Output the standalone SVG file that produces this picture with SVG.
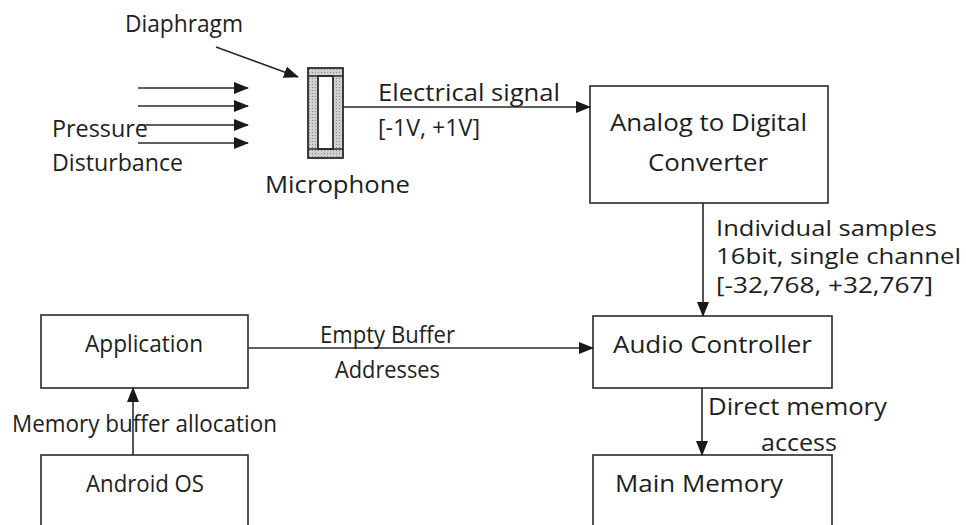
<svg xmlns="http://www.w3.org/2000/svg" width="966" height="525" viewBox="0 0 966 525">
<defs>
<marker id="ah" markerWidth="15" markerHeight="12" refX="14" refY="6" orient="auto" markerUnits="userSpaceOnUse">
<path d="M0,0 L15,6 L0,12 Z" fill="#1a1a1a"/>
</marker>
<pattern id="dots" width="3" height="3" patternUnits="userSpaceOnUse">
<rect width="3" height="3" fill="#d0d0d0"/>
<rect width="1" height="1" fill="#8a8a8a"/>
</pattern>
<style>
text{font-family:"Open Sans","Noto Sans","Liberation Sans",sans-serif;font-size:23px;fill:#1e1e1e}
.sm{font-size:21px}
.box{fill:#fff;stroke:#2a2a2a;stroke-width:1.6}
.ln{fill:none;stroke:#2a2a2a;stroke-width:1.6}
.ar{fill:none;stroke:#2a2a2a;stroke-width:1.6;marker-end:url(#ah)}
</style>
</defs>
<rect width="966" height="525" fill="#fff"/>

<g id="microphone">
<rect x="308" y="68" width="35" height="90" fill="url(#dots)" stroke="#2a2a2a" stroke-width="1.8"/>
<rect x="318" y="76" width="15" height="73" fill="#fff" stroke="#2a2a2a" stroke-width="1.8"/>
<line x1="308" y1="76" x2="343" y2="76" class="ln"/>
<line x1="308" y1="149" x2="343" y2="149" class="ln"/>
<text x="265" y="193" textLength="145" lengthAdjust="spacingAndGlyphs">Microphone</text>
</g>

<g id="diaphragm-label">
<text x="125" y="32" textLength="118" lengthAdjust="spacingAndGlyphs">Diaphragm</text>
</g>

<g id="pressure">
<text x="52" y="137" textLength="96" lengthAdjust="spacingAndGlyphs">Pressure</text>
<text x="52" y="171" textLength="131" lengthAdjust="spacingAndGlyphs">Disturbance</text>
</g>

<g id="adc">
<rect x="590" y="86" width="238" height="117" class="box"/>
<text x="610" y="131" textLength="197" lengthAdjust="spacingAndGlyphs">Analog to Digital</text>
<text x="648" y="171" textLength="120" lengthAdjust="spacingAndGlyphs">Converter</text>
</g>

<g id="audio-controller">
<rect x="593" y="316" width="239" height="72" class="box"/>
<text x="613" y="353" textLength="199" lengthAdjust="spacingAndGlyphs">Audio Controller</text>
</g>

<g id="main-memory">
<rect x="593" y="455" width="239" height="80" class="box"/>
<text x="615" y="492" textLength="168" lengthAdjust="spacingAndGlyphs">Main Memory</text>
</g>

<g id="application">
<rect x="41" y="315" width="207" height="73" class="box"/>
<text x="85" y="352" textLength="118" lengthAdjust="spacingAndGlyphs">Application</text>
</g>

<g id="android-os">
<rect x="41" y="455" width="207" height="80" class="box"/>
<text x="86" y="492" textLength="118" lengthAdjust="spacingAndGlyphs">Android OS</text>
</g>

<g id="connectors">
<line x1="138" y1="88" x2="248" y2="88" class="ar"/>
<line x1="138" y1="106" x2="248" y2="106" class="ar"/>
<line x1="138" y1="125" x2="248" y2="125" class="ar"/>
<line x1="138" y1="143" x2="248" y2="143" class="ar"/>
<line x1="216" y1="47" x2="298" y2="77" class="ar"/>
<line x1="343" y1="107" x2="590" y2="107" class="ar"/>
<line x1="703" y1="203" x2="703" y2="316" class="ar"/>
<line x1="248" y1="348" x2="593" y2="348" class="ar"/>
<line x1="702" y1="388" x2="702" y2="455" class="ar"/>
<line x1="133" y1="455" x2="133" y2="388" class="ar"/>
<text x="378" y="101" textLength="182" lengthAdjust="spacingAndGlyphs">Electrical signal</text>
<text x="378" y="136" textLength="102" lengthAdjust="spacingAndGlyphs">[-1V, +1V]</text>
<text class="sm" x="716" y="236" textLength="221" lengthAdjust="spacingAndGlyphs">Individual samples</text>
<text class="sm" x="716" y="264" textLength="245" lengthAdjust="spacingAndGlyphs">16bit, single channel</text>
<text class="sm" x="716" y="293" textLength="217" lengthAdjust="spacingAndGlyphs">[-32,768, +32,767]</text>
<text x="320" y="343" textLength="135" lengthAdjust="spacingAndGlyphs">Empty Buffer</text>
<text x="335" y="378" textLength="105" lengthAdjust="spacingAndGlyphs">Addresses</text>
<text x="708" y="415" textLength="179" lengthAdjust="spacingAndGlyphs">Direct memory</text>
<text x="761" y="451" textLength="76" lengthAdjust="spacingAndGlyphs">access</text>
<text x="12" y="432" textLength="265" lengthAdjust="spacingAndGlyphs">Memory buffer allocation</text>
</g>
</svg>
